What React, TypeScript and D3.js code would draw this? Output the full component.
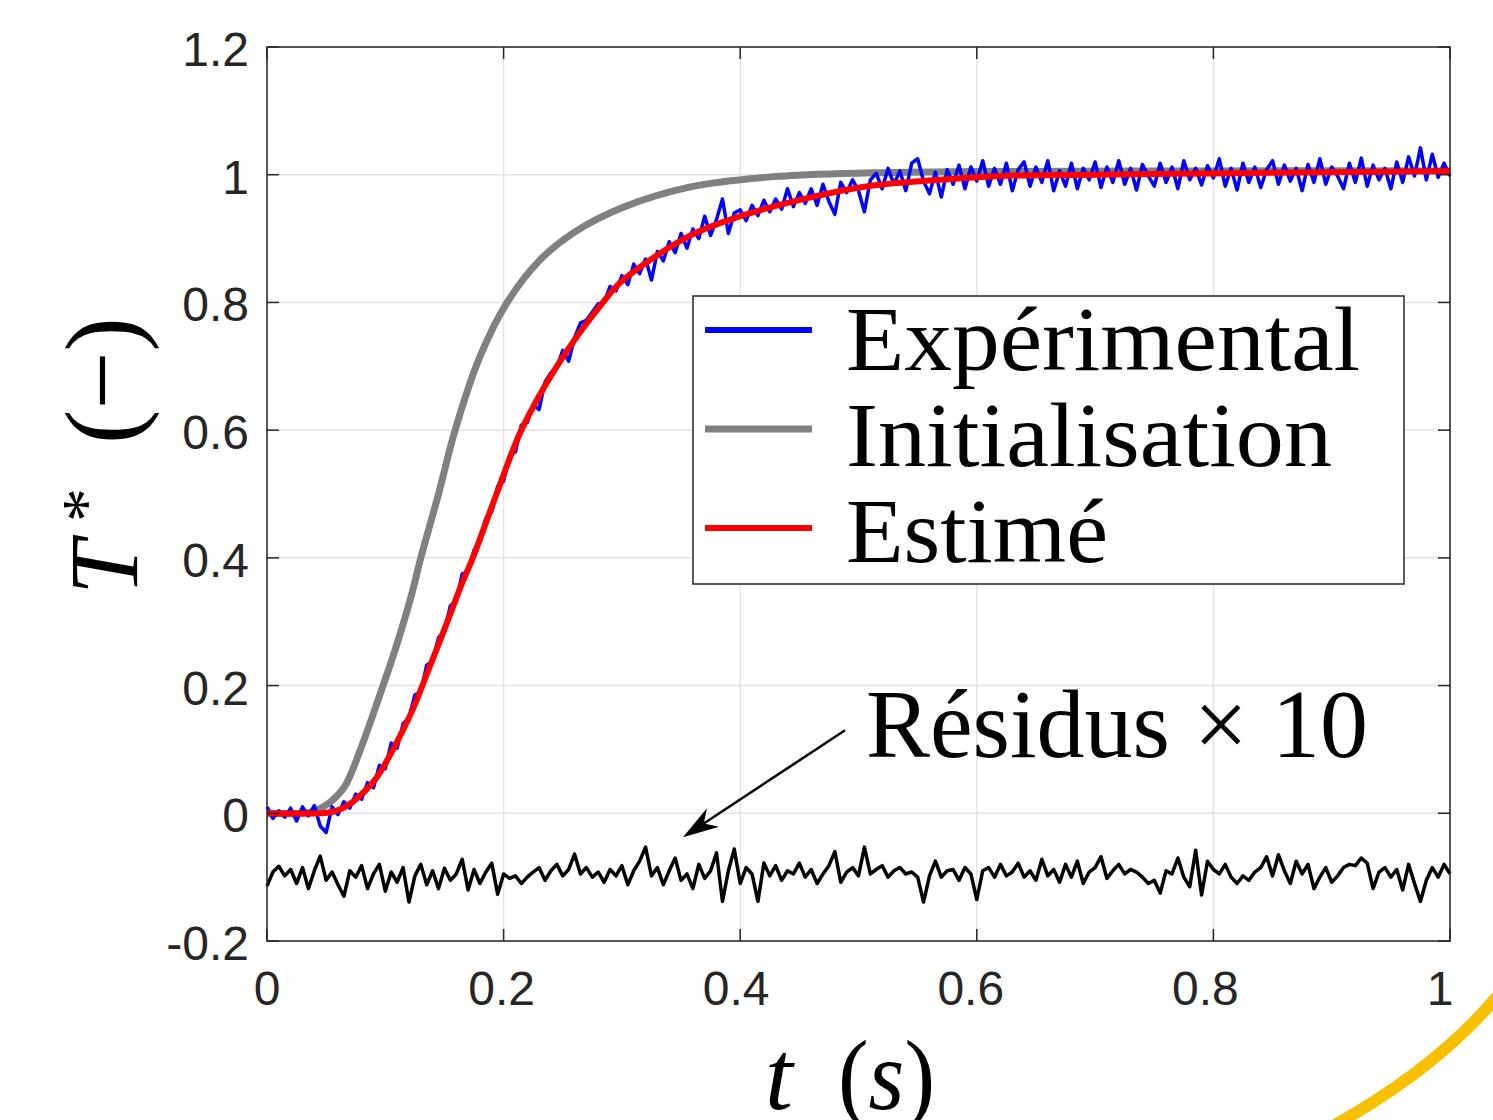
import React, { useEffect, useRef } from 'react';
import * as d3 from 'd3';

// sampling step of the measured signal (s)
const dt = 0.005;

const experimental = [
  0.010, -0.008, 0.004, -0.006, 0.008, -0.012, 0.010, -0.004, 0.012, -0.020,
  -0.030, 0.010, -0.002, 0.018, 0.008, 0.030, 0.022, 0.048, 0.040, 0.075,
  0.070, 0.110, 0.102, 0.140, 0.150, 0.185, 0.190, 0.232, 0.238, 0.275,
  0.285, 0.325, 0.332, 0.375, 0.378, 0.412, 0.428, 0.462, 0.472, 0.512,
  0.520, 0.560, 0.566, 0.608, 0.612, 0.640, 0.632, 0.675, 0.690, 0.698,
  0.725, 0.708, 0.745, 0.768, 0.772, 0.785, 0.798, 0.800, 0.825, 0.818,
  0.842, 0.828, 0.860, 0.845, 0.868, 0.835, 0.880, 0.865, 0.895, 0.878,
  0.908, 0.885, 0.915, 0.900, 0.935, 0.905, 0.930, 0.962, 0.908, 0.940,
  0.945, 0.928, 0.952, 0.936, 0.960, 0.942, 0.962, 0.946, 0.978, 0.950,
  0.972, 0.955, 0.978, 0.952, 0.985, 0.958, 0.938, 0.988, 0.972, 0.992,
  0.975, 0.942, 0.992, 1.002, 0.978, 1.010, 0.985, 1.006, 0.975, 1.018,
  1.025, 0.990, 0.970, 1.004, 0.965, 1.008, 0.985, 1.015, 0.978, 1.012,
  0.990, 1.022, 0.982, 1.010, 0.985, 1.018, 0.975, 1.008, 1.020, 0.982,
  1.012, 0.988, 1.022, 0.975, 1.006, 0.982, 1.018, 0.978, 1.010, 0.992,
  1.020, 0.980, 1.012, 0.988, 1.022, 0.985, 1.010, 0.976, 1.016, 0.998,
  0.982, 1.018, 0.988, 1.012, 0.978, 1.022, 0.992, 1.010, 0.984, 1.014,
  0.995, 1.025, 0.982, 1.010, 0.976, 1.018, 0.988, 1.012, 0.980, 1.008,
  1.022, 0.985, 1.015, 0.990, 1.010, 0.975, 1.016, 0.988, 1.025, 0.985,
  1.012, 0.998, 0.978, 1.018, 0.988, 1.026, 0.982, 1.015, 0.992, 1.010,
  0.978, 1.020, 0.988, 1.028, 0.998, 1.042, 0.992, 1.032, 0.996, 1.018, 0.998
];

// residuals x 10, shifted down
const residuals = [
  -0.114, -0.092, -0.083, -0.098, -0.088, -0.110, -0.085, -0.118, -0.090, -0.067,
  -0.105, -0.092, -0.112, -0.130, -0.090, -0.100, -0.082, -0.118, -0.095, -0.080,
  -0.122, -0.092, -0.108, -0.085, -0.139, -0.098, -0.080, -0.112, -0.090, -0.118,
  -0.086, -0.105, -0.095, -0.072, -0.120, -0.088, -0.110, -0.092, -0.078, -0.127,
  -0.095, -0.102, -0.098, -0.110, -0.100, -0.092, -0.085, -0.105, -0.090, -0.080,
  -0.098, -0.088, -0.064, -0.095, -0.085, -0.100, -0.092, -0.108, -0.088, -0.098,
  -0.082, -0.112, -0.090, -0.075, -0.053, -0.098, -0.085, -0.112, -0.090, -0.070,
  -0.105, -0.095, -0.118, -0.080, -0.102, -0.090, -0.062, -0.138, -0.090, -0.056,
  -0.110, -0.085, -0.095, -0.138, -0.078, -0.098, -0.082, -0.105, -0.090, -0.095,
  -0.078, -0.100, -0.088, -0.110, -0.095, -0.082, -0.060, -0.108, -0.092, -0.085,
  -0.098, -0.053, -0.095, -0.088, -0.082, -0.100, -0.090, -0.085, -0.095, -0.092,
  -0.100, -0.139, -0.098, -0.075, -0.100, -0.090, -0.088, -0.105, -0.085, -0.095,
  -0.135, -0.090, -0.085, -0.100, -0.080, -0.098, -0.092, -0.078, -0.100, -0.090,
  -0.105, -0.072, -0.098, -0.088, -0.108, -0.080, -0.100, -0.075, -0.110, -0.092,
  -0.085, -0.068, -0.102, -0.090, -0.080, -0.095, -0.088, -0.092, -0.100, -0.110,
  -0.105, -0.125, -0.090, -0.095, -0.070, -0.100, -0.115, -0.058, -0.128, -0.075,
  -0.088, -0.095, -0.080, -0.100, -0.110, -0.098, -0.105, -0.092, -0.085, -0.068,
  -0.098, -0.065, -0.090, -0.110, -0.075, -0.095, -0.080, -0.118, -0.100, -0.085,
  -0.108, -0.098, -0.085, -0.080, -0.082, -0.070, -0.078, -0.118, -0.092, -0.085,
  -0.100, -0.088, -0.120, -0.080, -0.110, -0.138, -0.105, -0.085, -0.100, -0.080, -0.095
];

const initialisation: [number, number][] = [
  [0, 0], [0.03, 0], [0.04, 0.003], [0.0465, 0.009], [0.055, 0.02], [0.066, 0.043],
  [0.08, 0.105], [0.094, 0.178], [0.1085, 0.257], [0.1226, 0.345], [0.13, 0.4],
  [0.145, 0.5], [0.159, 0.6], [0.18, 0.715], [0.203, 0.8], [0.231, 0.867],
  [0.259, 0.909], [0.301, 0.949], [0.358, 0.981], [0.428, 0.997], [0.512, 1.003],
  [0.6, 1.005], [0.8, 1.006], [1.0, 1.006]
];

const estimated: [number, number][] = [
  [0, 0], [0.045, 0], [0.055, 0.002], [0.063, 0.007], [0.072, 0.017], [0.0915, 0.053],
  [0.108, 0.105], [0.1226, 0.16], [0.1366, 0.225], [0.151, 0.293], [0.165, 0.361],
  [0.174, 0.4], [0.194, 0.5], [0.215, 0.6], [0.245, 0.7], [0.284, 0.8], [0.301, 0.835],
  [0.358, 0.905], [0.4, 0.935], [0.456, 0.963], [0.512, 0.983], [0.569, 0.992],
  [0.62, 0.998], [0.7, 1.0], [0.8, 1.002], [0.9, 1.004], [1.0, 1.006]
];

const xTicks = [0, 0.2, 0.4, 0.6, 0.8, 1];
const yTicks = [-0.2, 0, 0.2, 0.4, 0.6, 0.8, 1, 1.2];
const legendLabels = ['Expérimental', 'Initialisation', 'Estimé'];
const legendColors = ['#0000ff', '#808080', '#ff0000'];
const legendWidths = [514, 486, 262];

const App = () => {
  const ref = useRef<SVGSVGElement>(null);

  useEffect(() => {
    const svg = d3.select(ref.current);
    svg.selectAll('*').remove();

    const left = 267, right = 1450, top = 47, bottom = 941;
    const axisColor = '#262626';
    const serif = "'Liberation Serif', 'DejaVu Serif', serif";
    const sans = "'Liberation Sans', Arial, sans-serif";

    const x = d3.scaleLinear().domain([0, 1]).range([left, right]);
    const y = d3.scaleLinear().domain([-0.2, 1.2]).range([bottom, top]);

    const g = svg.append('g');

    // grid
    g.selectAll('.gx').data(xTicks).enter().append('line')
      .attr('x1', (d) => x(d)).attr('x2', (d) => x(d))
      .attr('y1', top).attr('y2', bottom)
      .attr('stroke', '#e3e3e3').attr('stroke-width', 1.5);
    g.selectAll('.gy').data(yTicks).enter().append('line')
      .attr('x1', left).attr('x2', right)
      .attr('y1', (d) => y(d)).attr('y2', (d) => y(d))
      .attr('stroke', '#e3e3e3').attr('stroke-width', 1.5);

    const smooth = d3.line<[number, number]>()
      .x((d) => x(d[0])).y((d) => y(d[1]))
      .curve(d3.curveCatmullRom.alpha(0.5));
    const sampled = d3.line<number>()
      .x((d, i) => x(i * dt)).y((d) => y(d));

    g.append('path').attr('d', smooth(initialisation))
      .attr('fill', 'none').attr('stroke', '#808080').attr('stroke-width', 7);
    g.append('path').attr('d', sampled(experimental))
      .attr('fill', 'none').attr('stroke', '#0000ff').attr('stroke-width', 3.5)
      .attr('stroke-linejoin', 'round');
    g.append('path').attr('d', smooth(estimated))
      .attr('fill', 'none').attr('stroke', '#ff0000').attr('stroke-width', 6);
    g.append('path').attr('d', sampled(residuals))
      .attr('fill', 'none').attr('stroke', '#000').attr('stroke-width', 3.5)
      .attr('stroke-linejoin', 'round');

    // axes box and inward ticks
    g.append('rect')
      .attr('x', left).attr('y', top).attr('width', right - left).attr('height', bottom - top)
      .attr('fill', 'none').attr('stroke', axisColor).attr('stroke-width', 1.5);
    const tl = 12;
    xTicks.forEach((d) => {
      g.append('line').attr('x1', x(d)).attr('x2', x(d)).attr('y1', bottom).attr('y2', bottom - tl)
        .attr('stroke', axisColor).attr('stroke-width', 1.5);
      g.append('line').attr('x1', x(d)).attr('x2', x(d)).attr('y1', top).attr('y2', top + tl)
        .attr('stroke', axisColor).attr('stroke-width', 1.5);
    });
    yTicks.forEach((d) => {
      g.append('line').attr('x1', left).attr('x2', left + tl).attr('y1', y(d)).attr('y2', y(d))
        .attr('stroke', axisColor).attr('stroke-width', 1.5);
      g.append('line').attr('x1', right).attr('x2', right - tl).attr('y1', y(d)).attr('y2', y(d))
        .attr('stroke', axisColor).attr('stroke-width', 1.5);
    });

    const fmt = (d: number) => String(+d.toFixed(1));
    g.selectAll('.xl').data(xTicks).enter().append('text')
      .attr('x', (d) => x(d) - 10 * d).attr('y', 1005)
      .attr('text-anchor', 'middle').attr('font-family', sans).attr('font-size', 48)
      .attr('fill', axisColor).text(fmt);
    g.selectAll('.yl').data(yTicks).enter().append('text')
      .attr('x', 249).attr('y', (d) => y(d) + 19)
      .attr('text-anchor', 'end').attr('font-family', sans).attr('font-size', 48)
      .attr('fill', axisColor).text(fmt);

    // axis titles
    const yt = g.append('g').attr('font-family', serif).attr('fill', '#000');
    yt.append('text').attr('transform', 'translate(137,595) rotate(-90)')
      .attr('font-size', 98).attr('font-style', 'italic').text('T');
    yt.append('text').attr('transform', 'translate(108,522) rotate(-90)')
      .attr('font-size', 68).text('*');
    yt.append('text').attr('transform', 'translate(137,444) rotate(-90)')
      .attr('font-size', 104).attr('textLength', 127).attr('lengthAdjust', 'spacingAndGlyphs')
      .text('(−)');

    g.append('text').attr('x', 765).attr('y', 1109).attr('font-family', serif)
      .attr('font-size', 100).attr('font-style', 'italic').text('t');
    const xs = g.append('text').attr('x', 838).attr('y', 1109).attr('font-family', serif)
      .attr('font-size', 100).attr('textLength', 97).attr('lengthAdjust', 'spacingAndGlyphs');
    xs.append('tspan').text('(');
    xs.append('tspan').attr('font-style', 'italic').text('s');
    xs.append('tspan').text(')');

    // legend
    const lg = g.append('g');
    lg.append('rect').attr('x', 693).attr('y', 296).attr('width', 711).attr('height', 288)
      .attr('fill', '#fff').attr('stroke', axisColor).attr('stroke-width', 1.5);
    legendLabels.forEach((label, i) => {
      const ly = 330 + i * 99;
      lg.append('line').attr('x1', 705).attr('x2', 812).attr('y1', ly).attr('y2', ly)
        .attr('stroke', legendColors[i]).attr('stroke-width', i === 1 ? 7 : 6);
      lg.append('text').attr('x', 846).attr('y', 370 + i * 96)
        .attr('font-family', serif).attr('font-size', 92)
        .attr('textLength', legendWidths[i]).attr('lengthAdjust', 'spacingAndGlyphs')
        .text(label);
    });

    // residual annotation
    const ax0 = x(0.4886), ay0 = y(0.130), ax1 = x(0.3516), ay1 = y(-0.0376);
    const len = Math.hypot(ax1 - ax0, ay1 - ay0);
    const ux = (ax1 - ax0) / len, uy = (ay1 - ay0) / len;
    const nx = -uy, ny = ux;
    g.append('line').attr('x1', ax0).attr('y1', ay0)
      .attr('x2', ax1 - ux * 20).attr('y2', ay1 - uy * 20)
      .attr('stroke', '#000').attr('stroke-width', 2.5);
    const bx = ax1 - ux * 36, by = ay1 - uy * 36;
    const mx = ax1 - ux * 25, my = ay1 - uy * 25;
    g.append('path')
      .attr('d', `M${ax1},${ay1}L${bx + nx * 11},${by + ny * 11}L${mx},${my}L${bx - nx * 11},${by - ny * 11}Z`)
      .attr('fill', '#000');
    g.append('text').attr('x', x(0.5063)).attr('y', y(0.0876))
      .attr('font-family', serif).attr('font-size', 97)
      .attr('textLength', 502).attr('lengthAdjust', 'spacingAndGlyphs')
      .text('Résidus × 10');

    // decorative arc at page corner
    g.append('path').attr('d', 'M1335,1125 Q1440,1066 1500,993')
      .attr('fill', 'none').attr('stroke', '#f8c000').attr('stroke-width', 12);
  }, []);

  return (
    <svg ref={ref} width={1493} height={1120}
      style={{ position: 'absolute', left: 0, top: 0, background: '#fff' }} />
  );
};

export default App;
